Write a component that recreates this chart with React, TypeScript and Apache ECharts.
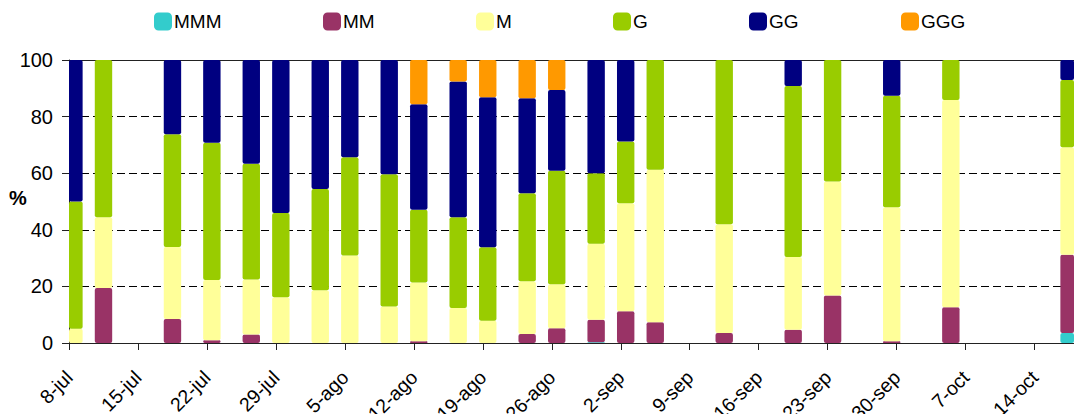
import { useEffect, useRef } from "react";
import * as echarts from "echarts";

// Sampling dates (month-day) of each stacked column
const SAMPLE_DATES = [
  "07-08", "07-11", "07-18", "07-22", "07-26", "07-29", "08-02", "08-05",
  "08-09", "08-12", "08-16", "08-19", "08-23", "08-26", "08-30", "09-02",
  "09-05", "09-12", "09-19", "09-23", "09-29", "10-05", "10-17",
];

// Weekly tick labels, starting on 8-jul
const TICK_LABELS = [
  "8-jul", "15-jul", "22-jul", "29-jul", "5-ago", "12-ago", "19-ago", "26-ago",
  "2-sep", "9-sep", "16-sep", "23-sep", "30-sep", "7-oct", "14-oct",
];

const SERIES_NAMES = ["MMM", "MM", "M", "G", "GG", "GGG"];

// Percentage shares per class (one value per sampling date)
const MMM = [0, 0, 0, 0, 0, 0, 0, 0, 0, 0, 0, 0, 0, 0, 0.3, 0, 0, 0, 0, 0, 0, 0, 3.5];
const MM = [0, 19.4, 8.5, 1, 3, 0, 0, 0, 0, 0.6, 0, 0, 3.2, 5.2, 7.9, 11.2, 7.3, 3.5, 4.7, 16.8, 0.6, 12.6, 27.7];
const M = [5, 25, 25.4, 21.3, 19.4, 16.2, 18.6, 30.9, 12.9, 20.8, 12.4, 7.9, 18.6, 15.6, 26.9, 38.2, 53.9, 38.5, 25.7, 40.3, 47.4, 73.3, 38];
const G = [45, 55.6, 39.9, 48.5, 40.9, 29.7, 35.8, 34.7, 46.7, 25.7, 32, 25.9, 31.1, 40.1, 24.9, 21.8, 38.8, 58, 60.4, 42.9, 39.4, 14.1, 23.7];
const GG = [50, 0, 26.2, 29.2, 36.7, 54.1, 45.6, 34.4, 40.4, 37.3, 48, 53, 33.6, 28.5, 40, 28.8, 0, 0, 9.2, 0, 12.6, 0, 7.1];
const GGG = [0, 0, 0, 0, 0, 0, 0, 0, 0, 15.6, 7.6, 13.2, 13.5, 10.6, 0, 0, 0, 0, 0, 0, 0, 0, 0];

const COLORS = ["#33CCCC", "#993366", "#FFFF99", "#99CC00", "#000080", "#FF9900"];

const FONT = "'Liberation Sans', Arial, sans-serif";
const DAY_MS = 86400000;
// number of visible day slots on the date axis (8-jul .. 17-oct)
const DAY_COUNT = 102;

function dayOffset(md: string): number {
  const [m, d] = md.split("-").map(Number);
  return Math.round((Date.UTC(2001, m - 1, d) - Date.UTC(2001, 6, 8)) / DAY_MS);
}

export default function App() {
  const ref = useRef<HTMLDivElement>(null);

  useEffect(() => {
    if (!ref.current) return;
    const chart = echarts.init(ref.current, undefined, { renderer: "svg" });

    // one category per day; columns only on sampling dates
    const days = Array.from({ length: DAY_COUNT }, (_, i) => String(i));
    const offsets = SAMPLE_DATES.map(dayOffset);
    const values = [MMM, MM, M, G, GG, GGG];
    const tickDays = TICK_LABELS.map((_, i) => i * 7);
    const legendLeft = [154, 323, 476, 613, 749, 901];

    const seriesData = values.map((vals) => {
      const arr: (number | null)[] = days.map(() => null);
      offsets.forEach((d, j) => {
        arr[d] = vals[j];
      });
      return arr;
    });

    chart.setOption({
      animation: false,
      textStyle: { fontFamily: FONT },
      legend: SERIES_NAMES.map((name, i) => ({
        data: [name],
        left: legendLeft[i],
        top: 12,
        padding: 0,
        itemWidth: 18,
        itemHeight: 18,
        icon: "roundRect",
        selectedMode: false,
        textStyle: { fontFamily: FONT, fontSize: 19, color: "#000", padding: [0, 0, 0, -3] },
      })),
      grid: {
        left: 69,
        right: 0,
        top: 60,
        bottom: 71,
        containLabel: false,
        outerBoundsMode: "none",
      },
      xAxis: [
        {
          // day slots carrying the columns
          type: "category",
          data: days,
          boundaryGap: true,
          axisLine: { show: false },
          axisTick: { show: false },
          axisLabel: { show: false },
          splitLine: { show: false },
        },
        {
          // visible date scale, measured in days from 8-jul
          type: "value",
          position: "bottom",
          min: 0,
          max: DAY_COUNT,
          interval: 7,
          axisLine: { show: true, onZero: false, lineStyle: { color: "#222", width: 1 } },
          axisTick: { show: true, length: 7, customValues: tickDays, lineStyle: { color: "#222" } },
          axisLabel: {
            customValues: tickDays,
            rotate: 45,
            margin: 31,
            fontSize: 19.5,
            fontFamily: FONT,
            color: "#000",
            formatter: (v: number) => TICK_LABELS[Math.round(v / 7)] ?? "",
          },
          splitLine: { show: false },
        },
        {
          type: "value",
          position: "top",
          min: 0,
          max: DAY_COUNT,
          axisLine: { show: true, onZero: false, lineStyle: { color: "#222", width: 1 } },
          axisTick: { show: false },
          axisLabel: { show: false },
          splitLine: { show: false },
        },
      ],
      yAxis: {
        type: "value",
        min: 0,
        max: 100,
        interval: 20,
        axisLine: { show: true, lineStyle: { color: "#222", width: 1 } },
        axisTick: { show: true, length: 7, lineStyle: { color: "#222" } },
        axisLabel: { margin: 16, fontSize: 20, fontFamily: FONT, color: "#000" },
        splitLine: { show: true, lineStyle: { color: "#000", type: [8, 4], width: 1 } },
      },
      graphic: [
        {
          type: "text",
          left: 9,
          top: 188,
          style: { text: "%", fontFamily: FONT, fontSize: 20, fontWeight: "bold", fill: "#000" },
        },
      ],
      series: SERIES_NAMES.map((name, i) => ({
        name,
        type: "bar",
        stack: "share",
        xAxisIndex: 0,
        barWidth: 17.4,
        clip: true,
        itemStyle: { color: COLORS[i], borderRadius: 2 },
        data: seriesData[i],
      })),
    });

    return () => chart.dispose();
  }, []);

  return (
    <div
      ref={ref}
      style={{ position: "fixed", left: 0, top: 0, width: 1074, height: 414, background: "#fff" }}
    />
  );
}
